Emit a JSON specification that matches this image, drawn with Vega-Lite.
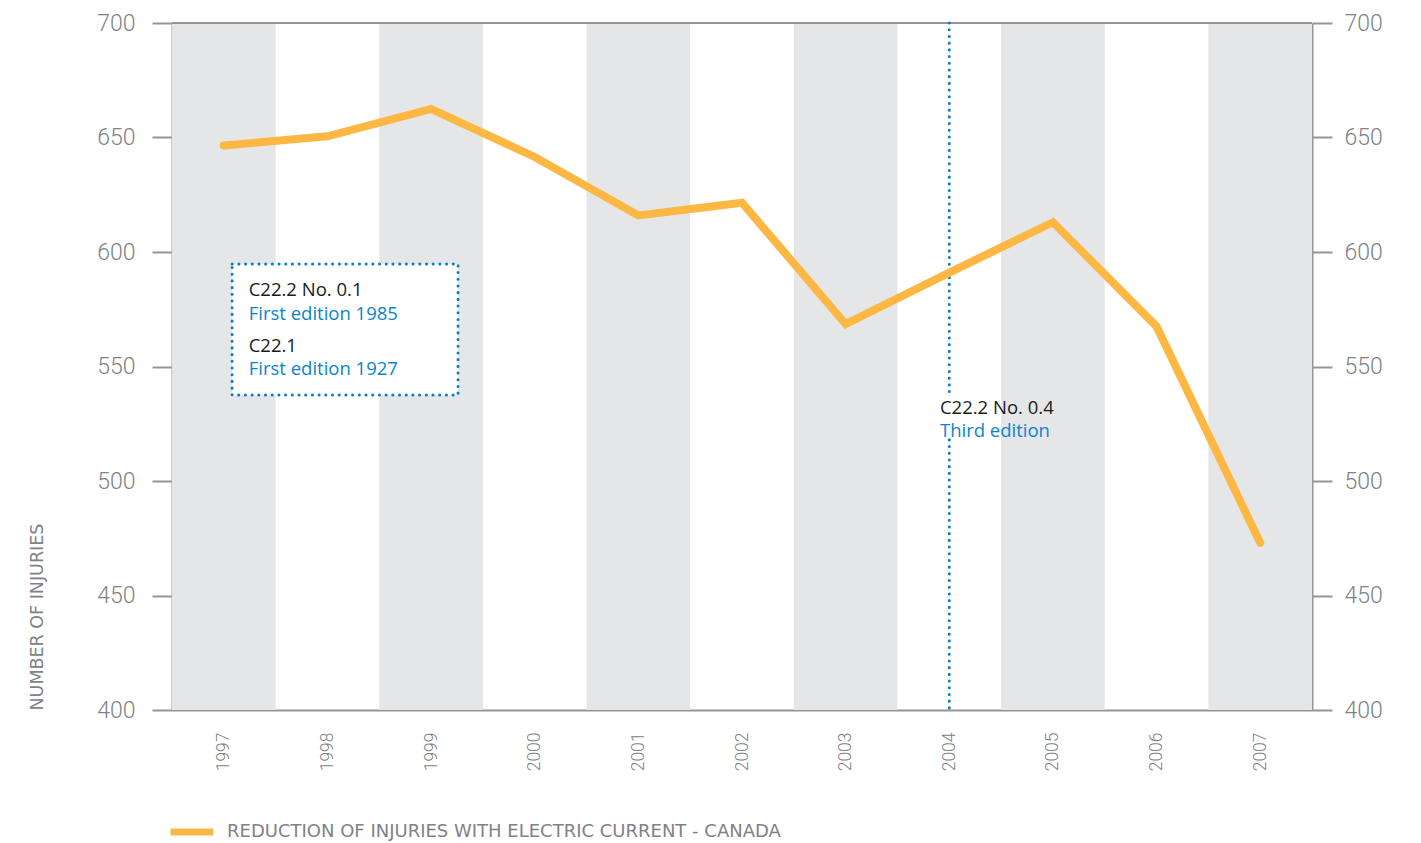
{
  "$schema": "https://vega.github.io/schema/vega-lite/v6.json",
  "width": 1140,
  "height": 687,
  "autosize": {"type": "none"},
  "padding": {"left": 172, "top": 23, "right": 109, "bottom": 133},
  "background": "white",
  "config": {
    "view": {"stroke": null},
    "axis": {"labelFont": "Roboto", "titleFont": "DejaVu Sans", "domainColor": "#939598", "tickColor": "#939598", "labelColor": "#808285", "titleColor": "#808285", "domainWidth": 2, "tickWidth": 2, "grid": false, "zindex": 1}
  },
  "datasets": {
    "injuries": [
      {"year": 1997, "value": 646.5},
      {"year": 1998, "value": 650.5},
      {"year": 1999, "value": 662.5},
      {"year": 2000, "value": 641.5},
      {"year": 2001, "value": 616},
      {"year": 2002, "value": 621.5},
      {"year": 2003, "value": 568.5},
      {"year": 2004, "value": 591},
      {"year": 2005, "value": 613},
      {"year": 2006, "value": 567.5},
      {"year": 2007, "value": 473}
    ],
    "bands": [
      {"year": 1997}, {"year": 1999}, {"year": 2001}, {"year": 2003}, {"year": 2005}, {"year": 2007}
    ],
    "vline": [
      {"year": 2004, "top": 700, "bottom": 537},
      {"year": 2004, "top": 518, "bottom": 400}
    ],
    "labelsBlack": [
      {"x": 1997.24, "y": 583.4, "text": "C22.2 No. 0.1"},
      {"x": 1997.24, "y": 559, "text": "C22.1"},
      {"x": 2003.91, "y": 531.9, "text": "C22.2 No. 0.4"}
    ],
    "labelsBlue": [
      {"x": 1997.24, "y": 572.9, "text": "First edition 1985"},
      {"x": 1997.24, "y": 548.9, "text": "First edition 1927"},
      {"x": 2003.91, "y": 521.8, "text": "Third edition"}
    ]
  },
  "layer": [
    {
      "data": {"name": "bands"},
      "mark": {"type": "bar", "color": "#e5e6e7", "width": 103.64},
      "encoding": {
        "x": {"field": "year", "type": "quantitative", "scale": {"domain": [1996.5, 2007.5], "nice": false, "zero": false, "padding": 0}, "axis": {"values": [1997,1998,1999,2000,2001,2002,2003,2004,2005,2006,2007], "format": "d", "labelAngle": -90, "ticks": false, "labelPadding": 22, "labelFontSize": 17.5, "labelFontWeight": 300, "title": null, "labelFlush": false}},
        "y": {"datum": 400, "type": "quantitative", "scale": {"domain": [400, 700]}, "axis": null},
        "y2": {"datum": 700}
      }
    },
    {
      "data": {"values": [{}]},
      "mark": {"type": "rule", "color": "#939598", "strokeWidth": 2},
      "encoding": {
        "y": {"datum": 700, "type": "quantitative", "axis": {"orient": "right", "values": [400,450,500,550,600,650,700], "tickSize": 20, "labelPadding": 12, "labelFontSize": 23, "labelFontWeight": 300, "title": null}}
      }
    },
    {
      "data": {"name": "vline"},
      "mark": {"type": "rule", "color": "#0b7fc6", "strokeWidth": 3, "strokeDash": [0.1, 6.6], "strokeCap": "round"},
      "encoding": {
        "x": {"field": "year", "type": "quantitative", "title": null},
        "y": {"field": "top", "type": "quantitative", "axis": null},
        "y2": {"field": "bottom"}
      }
    },
    {
      "data": {"values": [{}]},
      "mark": {"type": "rect", "fill": "white", "stroke": "#0b7fc6", "strokeWidth": 3, "strokeDash": [0.1, 6.6], "strokeCap": "round"},
      "encoding": {
        "x": {"datum": 1997.08, "type": "quantitative", "title": null},
        "x2": {"datum": 1999.26},
        "y": {"datum": 594.8, "type": "quantitative", "axis": null},
        "y2": {"datum": 537.6}
      }
    },
    {
      "data": {"name": "labelsBlack"},
      "mark": {"type": "text", "align": "left", "baseline": "middle", "font": "Open Sans", "fontSize": 18.5, "color": "#1a1a1a"},
      "encoding": {
        "x": {"field": "x", "type": "quantitative", "title": null},
        "y": {"field": "y", "type": "quantitative", "axis": null},
        "text": {"field": "text"}
      }
    },
    {
      "data": {"name": "labelsBlue"},
      "mark": {"type": "text", "align": "left", "baseline": "middle", "font": "Open Sans", "fontSize": 18.5, "color": "#0b85cc"},
      "encoding": {
        "x": {"field": "x", "type": "quantitative", "title": null},
        "y": {"field": "y", "type": "quantitative", "axis": null},
        "text": {"field": "text"}
      }
    },
    {
      "data": {"name": "injuries"},
      "mark": {"type": "line", "strokeWidth": 8, "strokeCap": "round", "strokeJoin": "miter"},
      "encoding": {
        "x": {"field": "year", "type": "quantitative", "title": null},
        "y": {"field": "value", "type": "quantitative", "axis": {"orient": "left", "values": [400,450,500,550,600,650,700], "tickSize": 20, "labelPadding": 17, "labelFontSize": 23, "labelFontWeight": 300, "title": "NUMBER OF INJURIES", "titleAnchor": "start", "titleFontSize": 17.5, "titleFontWeight": "normal", "titlePadding": 50}},
        "color": {"datum": "REDUCTION OF INJURIES WITH ELECTRIC CURRENT - CANADA", "type": "nominal", "scale": {"range": ["#fdb843"]}, "legend": {"orient": "none", "legendX": -5, "legendY": 784, "title": null, "symbolType": "stroke", "symbolSize": 1849, "symbolStrokeWidth": 7, "labelOffset": 10, "labelFont": "DejaVu Sans", "labelFontSize": 18, "labelColor": "#808285", "labelLimit": 800}}
      }
    }
  ],
  "resolve": {"axis": {"y": "independent"}}
}
